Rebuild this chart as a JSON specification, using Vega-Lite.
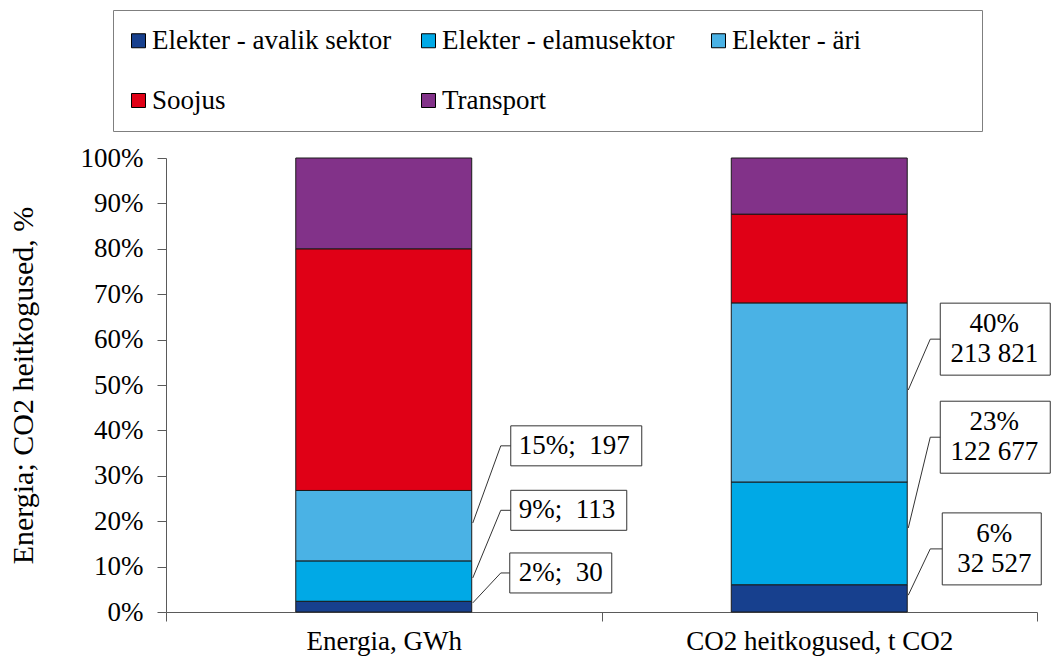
{
  "$schema": "https://vega.github.io/schema/vega-lite/v6.json",
  "width": 871,
  "height": 454,
  "autosize": "none",
  "padding": {"left": 166, "top": 158, "right": 14, "bottom": 45},
  "background": "white",
  "config": {"view": {"stroke": null}, "font": "Liberation Serif"},
  "datasets": {
    "bars": [
      {"cat": "Energia, GWh", "sector": "Elekter - avalik sektor", "value": 30},
      {"cat": "Energia, GWh", "sector": "Elekter - elamusektor", "value": 113},
      {"cat": "Energia, GWh", "sector": "Elekter - äri", "value": 197},
      {"cat": "Energia, GWh", "sector": "Soojus", "value": 676},
      {"cat": "Energia, GWh", "sector": "Transport", "value": 254},
      {"cat": "CO2 heitkogused, t CO2", "sector": "Elekter - avalik sektor", "value": 32527},
      {"cat": "CO2 heitkogused, t CO2", "sector": "Elekter - elamusektor", "value": 122677},
      {"cat": "CO2 heitkogused, t CO2", "sector": "Elekter - äri", "value": 213821},
      {"cat": "CO2 heitkogused, t CO2", "sector": "Soojus", "value": 106000},
      {"cat": "CO2 heitkogused, t CO2", "sector": "Transport", "value": 67000}
    ],
    "labels": [
      {"cat": "Energia, GWh", "sector": "Elekter - avalik sektor", "label": "2%;\u00a0 30", "anchor": 0.02, "labelAt": 0.086},
      {"cat": "Energia, GWh", "sector": "Elekter - elamusektor", "label": "9%;\u00a0 113", "anchor": 0.075, "labelAt": 0.224},
      {"cat": "Energia, GWh", "sector": "Elekter - äri", "label": "15%;\u00a0 197", "anchor": 0.196, "labelAt": 0.366},
      {"cat": "CO2 heitkogused, t CO2", "sector": "Elekter - avalik sektor", "label": "6%\n32 527", "anchor": 0.037, "labelAt": 0.139},
      {"cat": "CO2 heitkogused, t CO2", "sector": "Elekter - elamusektor", "label": "23%\n122 677", "anchor": 0.185, "labelAt": 0.385},
      {"cat": "CO2 heitkogused, t CO2", "sector": "Elekter - äri", "label": "40%\n213 821", "anchor": 0.489, "labelAt": 0.601}
    ]
  },
  "layer": [
    {
      "data": {"name": "bars"},
      "mark": {"type": "bar", "width": {"band": 0.404}, "stroke": "#1a1a1a", "strokeWidth": 1},
      "encoding": {
        "x": {
          "field": "cat", "type": "nominal",
          "sort": ["Energia, GWh", "CO2 heitkogused, t CO2"],
          "scale": {"paddingInner": 0, "paddingOuter": 0},
          "axis": {
            "title": null, "labelAngle": 0, "labelFontSize": 27, "labelFont": "Liberation Serif",
            "labelColor": "black", "tickBand": "extent", "tickSize": 9, "tickColor": "#5a5a5a",
            "domainColor": "#5a5a5a", "labelPadding": 7, "labelLimit": 500
          }
        },
        "y": {
          "field": "value", "type": "quantitative", "stack": "normalize",
          "scale": {"domain": [0, 1]},
          "title": "Energia; CO2 heitkogused, %",
          "axis": {
            "format": ".0%", "values": [0, 0.1, 0.2, 0.3, 0.4, 0.5, 0.6, 0.7, 0.8, 0.9, 1],
            "grid": false, "labelFontSize": 27, "labelFont": "Liberation Serif", "labelColor": "black",
            "tickSize": 9, "tickColor": "#5a5a5a", "domainColor": "#5a5a5a", "labelPadding": 14,
            "labelFlush": false, "labelOverlap": false,
            "titleFontSize": 30, "titleFont": "Liberation Serif", "titleFontWeight": "normal",
            "titleColor": "black", "titlePadding": 42
          }
        },
        "color": {
          "field": "sector", "type": "nominal",
          "scale": {
            "domain": ["Elekter - avalik sektor", "Elekter - elamusektor", "Elekter - äri", "Soojus", "Transport"],
            "range": ["#17408e", "#00a9e6", "#4ab2e5", "#e00016", "#823289"]
          },
          "legend": {
            "orient": "none", "legendX": -53, "legendY": -148, "direction": "horizontal", "columns": 3,
            "gridAlign": "all",
            "symbolType": "square", "symbolSize": 196, "symbolStrokeColor": "black", "symbolStrokeWidth": 1,
            "symbolOffset": -5,
            "labelFontSize": 27, "labelFont": "Liberation Serif", "labelColor": "black", "labelOffset": 0,
            "labelLimit": 400, "columnPadding": 27, "rowPadding": 32, "padding": 17,
            "strokeColor": "#7f7f7f", "fillColor": "white",
            "title": "\u00a0", "titleOrient": "right", "titlePadding": 104, "titleFontSize": 2
          }
        },
        "order": {"field": "sector", "sort": "ascending"}
      }
    },
    {
      "data": {"name": "labels"},
      "transform": [{"filter": "datum.cat === 'Energia, GWh'"}],
      "mark": {"type": "rule", "xOffset": 89, "x2Offset": 117, "stroke": "#333333", "strokeWidth": 1},
      "encoding": {
        "x": {"field": "cat", "type": "nominal", "sort": ["Energia, GWh", "CO2 heitkogused, t CO2"]},
        "x2": {"field": "cat"},
        "y": {"field": "anchor", "type": "quantitative", "title": "Energia; CO2 heitkogused, %"},
        "y2": {"field": "labelAt"}
      }
    },
    {
      "data": {"name": "labels"},
      "transform": [{"filter": "datum.cat !== 'Energia, GWh'"}],
      "mark": {"type": "rule", "xOffset": 89, "x2Offset": 111, "stroke": "#333333", "strokeWidth": 1},
      "encoding": {
        "x": {"field": "cat", "type": "nominal", "sort": ["Energia, GWh", "CO2 heitkogused, t CO2"]},
        "x2": {"field": "cat"},
        "y": {"field": "anchor", "type": "quantitative", "title": "Energia; CO2 heitkogused, %"},
        "y2": {"field": "labelAt"}
      }
    },
    {
      "data": {"name": "labels"},
      "mark": {"type": "point", "filled": true, "fill": "white", "stroke": "#333333", "strokeWidth": 1, "opacity": 1, "size": 4},
      "encoding": {
        "x": {"field": "cat", "type": "nominal", "sort": ["Energia, GWh", "CO2 heitkogused, t CO2"]},
        "y": {"field": "labelAt", "type": "quantitative", "title": "Energia; CO2 heitkogused, %"},
        "shape": {
          "condition": [
            {"test": "datum.cat === 'Energia, GWh' && datum.sector === 'Elekter - äri'", "value": "M117,0H127M127,-20H258V20H127Z"},
            {"test": "datum.cat === 'Energia, GWh' && datum.sector === 'Elekter - elamusektor'", "value": "M117,0H127M127,-20H243V20H127Z"},
            {"test": "datum.cat === 'Energia, GWh' && datum.sector === 'Elekter - avalik sektor'", "value": "M117,0H126M126,-20H228V20H126Z"},
            {"test": "datum.sector === 'Elekter - avalik sektor'", "value": "M111,0H123M123,-36H222V36H123Z"}
          ],
          "value": "M111,0H121M121,-36H231V36H121Z"
        }
      }
    },
    {
      "data": {"name": "labels"},
      "transform": [{"filter": "datum.cat === 'Energia, GWh'"}],
      "mark": {"type": "text", "align": "left", "baseline": "middle", "xOffset": 135, "fontSize": 27, "font": "Liberation Serif", "color": "black"},
      "encoding": {
        "x": {"field": "cat", "type": "nominal", "sort": ["Energia, GWh", "CO2 heitkogused, t CO2"]},
        "y": {"field": "labelAt", "type": "quantitative", "title": "Energia; CO2 heitkogused, %"},
        "text": {"field": "label"}
      }
    },
    {
      "data": {"name": "labels"},
      "transform": [{"filter": "datum.cat !== 'Energia, GWh'"}],
      "mark": {"type": "text", "align": "center", "baseline": "middle", "xOffset": 175, "yOffset": -15, "fontSize": 27, "font": "Liberation Serif", "color": "black", "lineBreak": "\n", "lineHeight": 30},
      "encoding": {
        "x": {"field": "cat", "type": "nominal", "sort": ["Energia, GWh", "CO2 heitkogused, t CO2"]},
        "y": {"field": "labelAt", "type": "quantitative", "title": "Energia; CO2 heitkogused, %"},
        "text": {"field": "label"}
      }
    }
  ]
}
